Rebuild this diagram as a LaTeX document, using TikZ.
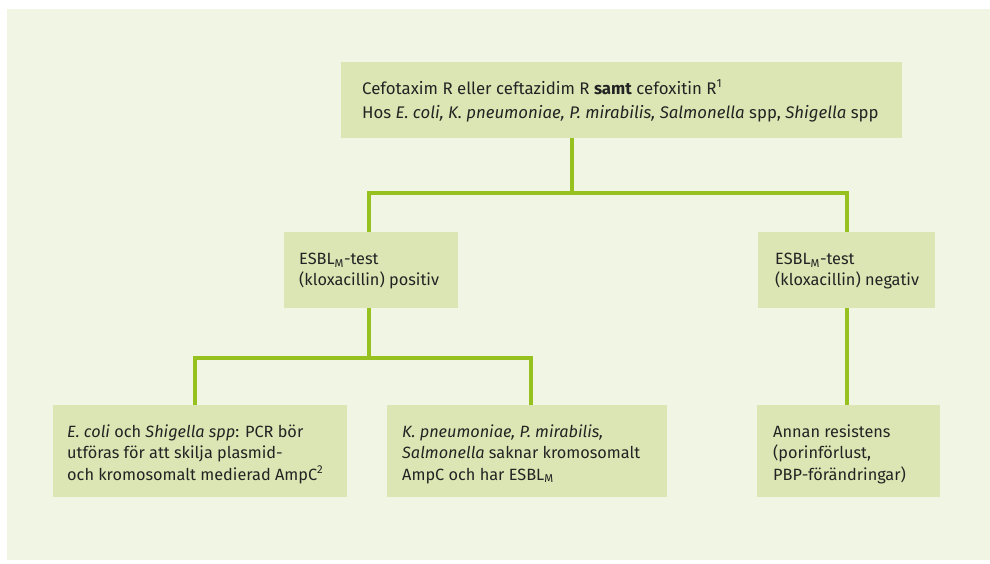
\documentclass[tikz,border=0pt]{standalone}
\usepackage{fontspec}
\setmainfont{Fira Sans}
\definecolor{bgc}{RGB}{241,245,228}
\definecolor{boxc}{RGB}{220,230,180}
\definecolor{linec}{RGB}{150,193,31}
\definecolor{txtc}{RGB}{35,35,35}
\begin{document}
\begin{tikzpicture}[x=1pt,y=-1pt,
  box/.style={fill=boxc,draw=none,inner sep=0pt,anchor=north west},
  txt/.style={anchor=west,inner sep=0pt,align=left,text=txtc,font=\fontsize{16.3}{21.2}\selectfont},
  conn/.style={draw=linec,line width=4pt}]
\useasboundingbox (0,0) rectangle (990,563);
\fill[bgc] (7,9) rectangle (990,560);
% boxes
\node[box,minimum width=561pt,minimum height=76pt] (top) at (341,62) {};
\node[box,minimum width=174pt,minimum height=76pt] (ml) at (284,232) {};
\node[box,minimum width=177pt,minimum height=76pt] (mr) at (758,232) {};
\node[box,minimum width=294pt,minimum height=92pt] (bl) at (53,405) {};
\node[box,minimum width=280pt,minimum height=92pt] (bm) at (387,405) {};
\node[box,minimum width=183pt,minimum height=92pt] (br) at (757,405) {};
% texts
\node[txt,font=\fontsize{16.8}{24.5}\selectfont] (ttop) at ([xshift=21pt,yshift=-1pt]top.west) {Cefotaxim R eller ceftazidim R \textbf{samt} cefoxitin R\textsuperscript{1}\\
Hos \textit{E. coli, K. pneumoniae, P. mirabilis, Salmonella} spp, \textit{Shigella} spp};
\node[txt] (tml) at ([xshift=15pt,yshift=-1pt]ml.west) {ESBL\textsubscript{M}-test\\(kloxacillin) positiv};
\node[txt] (tmr) at ([xshift=17pt,yshift=-1pt]mr.west) {ESBL\textsubscript{M}-test\\(kloxacillin) negativ};
\node[txt] (tbl) at ([xshift=14pt,yshift=-3pt]bl.west) {\textit{E. coli} och \textit{Shigella spp}: PCR bör\\utföras för att skilja plasmid-\\och kromosomalt medierad AmpC\textsuperscript{2}};
\node[txt] (tbm) at ([xshift=15pt,yshift=-3pt]bm.west) {\textit{K. pneumoniae, P. mirabilis,}\\\textit{Salmonella} saknar kromosomalt\\AmpC och har ESBL\textsubscript{M}};
\node[txt] (tbr) at ([xshift=16pt,yshift=-3pt]br.west) {Annan resistens\\(porinförlust,\\PBP-förändringar)};
% connectors
\coordinate (j1) at (572,193);
\coordinate (j2) at (369,358);
\draw[conn] (top.south -| j1) -- (j1);
\draw[conn] (ml.north -| j2) |- (j1) -| (mr.north -| 847,0);
\draw[conn] (ml.south -| j2) -- (j2);
\draw[conn] (bl.north -| 195,0) |- (j2) -| (bm.north -| 531,0);
\draw[conn] (mr.south -| 847,0) -- (br.north -| 847,0);
\end{tikzpicture}
\end{document}
